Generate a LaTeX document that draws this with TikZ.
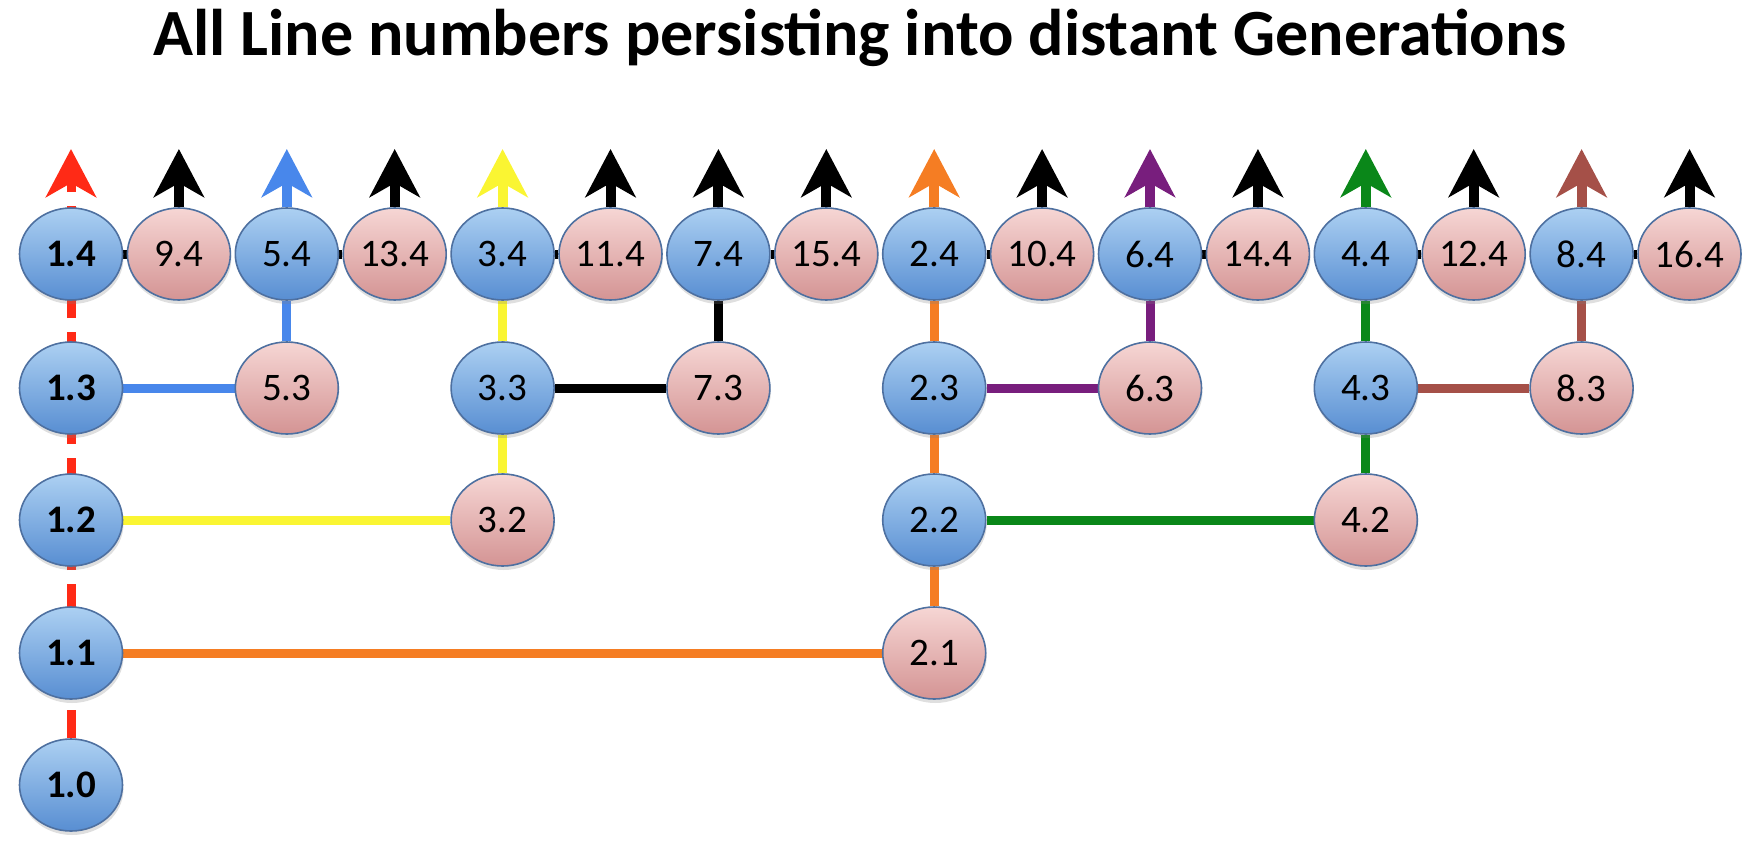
\documentclass[tikz,border=0pt]{standalone}
\usepackage{fontspec}
\setmainfont{Carlito}
\usetikzlibrary{arrows.meta,shadows,shapes.geometric,backgrounds}
\definecolor{bluetop}{RGB}{172,208,242}
\definecolor{bluebot}{RGB}{88,142,210}
\definecolor{pinktop}{RGB}{246,214,212}
\definecolor{pinkbot}{RGB}{212,148,148}
\definecolor{edgec}{RGB}{78,112,160}
\definecolor{lred}{RGB}{255,42,22}
\definecolor{lblue}{RGB}{72,135,235}
\definecolor{lyellow}{RGB}{250,245,50}
\definecolor{lorange}{RGB}{245,125,35}
\definecolor{lpurple}{RGB}{120,30,125}
\definecolor{lgreen}{RGB}{10,135,25}
\definecolor{lbrown}{RGB}{165,80,72}
\tikzset{
  gen/.style={ellipse, minimum width=103pt, minimum height=92pt, inner sep=0pt,
    draw=edgec, line width=1.6pt, font=\fontsize{39}{39}\selectfont,
    drop shadow={shadow xshift=1pt, shadow yshift=-4pt, opacity=0.25}},
  bnode/.style={gen, top color=bluetop, bottom color=bluebot},
  pnode/.style={gen, top color=pinktop, bottom color=pinkbot},
  boldtxt/.style={font=\fontsize{39}{39}\selectfont\bfseries},
  lshadow/.style={preaction={draw=black, draw opacity=0.25, transform canvas={shift={(2pt,-2pt)}}}},
  link/.style={line width=9pt, lshadow},
  arr/.style={line width=10pt, -{Stealth[length=48pt,width=50pt,inset=14pt]}},
}
\begin{document}
\begin{tikzpicture}[x=1pt,y=-1pt]
\useasboundingbox (0,0) rectangle (1760,840);
\node[anchor=base, font=\fontsize{66}{66}\selectfont\bfseries] (title) at (860,56) {All Line numbers persisting into distant Generations};
\def\ra{254}\def\rb{388}\def\rc{520}\def\rd{653}\def\re{785}
\foreach \lab/\i in {1-4/0,9-4/1,5-4/2,13-4/3,3-4/4,11-4/5,7-4/6,15-4/7,
  2-4/8,10-4/9,6-4/10,14-4/11,4-4/12,12-4/13,8-4/14,16-4/15}{
  \coordinate (t\lab) at ({71+107.9*\i},149);
}
% top row
\node[bnode,boldtxt] (n1-4) at (71,\ra) {1.4};
\node[pnode] (n9-4) at ({71+107.9*1},\ra) {9.4};
\node[bnode] (n5-4) at ({71+107.9*2},\ra) {5.4};
\node[pnode] (n13-4) at ({71+107.9*3},\ra) {13.4};
\node[bnode] (n3-4) at ({71+107.9*4},\ra) {3.4};
\node[pnode] (n11-4) at ({71+107.9*5},\ra) {11.4};
\node[bnode] (n7-4) at ({71+107.9*6},\ra) {7.4};
\node[pnode] (n15-4) at ({71+107.9*7},\ra) {15.4};
\node[bnode] (n2-4) at ({71+107.9*8},\ra) {2.4};
\node[pnode] (n10-4) at ({71+107.9*9},\ra) {10.4};
\node[bnode] (n6-4) at ({71+107.9*10},\ra) {6.4};
\node[pnode] (n14-4) at ({71+107.9*11},\ra) {14.4};
\node[bnode] (n4-4) at ({71+107.9*12},\ra) {4.4};
\node[pnode] (n12-4) at ({71+107.9*13},\ra) {12.4};
\node[bnode] (n8-4) at ({71+107.9*14},\ra) {8.4};
\node[pnode] (n16-4) at ({71+107.9*15},\ra) {16.4};
% row 2
\node[bnode,boldtxt] (n1-3) at (71,\rb) {1.3};
\node[pnode] (n5-3) at ({71+107.9*2},\rb) {5.3};
\node[bnode] (n3-3) at ({71+107.9*4},\rb) {3.3};
\node[pnode] (n7-3) at ({71+107.9*6},\rb) {7.3};
\node[bnode] (n2-3) at ({71+107.9*8},\rb) {2.3};
\node[pnode] (n6-3) at ({71+107.9*10},\rb) {6.3};
\node[bnode] (n4-3) at ({71+107.9*12},\rb) {4.3};
\node[pnode] (n8-3) at ({71+107.9*14},\rb) {8.3};
% row 3
\node[bnode,boldtxt] (n1-2) at (71,\rc) {1.2};
\node[pnode] (n3-2) at ({71+107.9*4},\rc) {3.2};
\node[bnode] (n2-2) at ({71+107.9*8},\rc) {2.2};
\node[pnode] (n4-2) at ({71+107.9*12},\rc) {4.2};
% row 4
\node[bnode,boldtxt] (n1-1) at (71,\rd) {1.1};
\node[pnode] (n2-1) at ({71+107.9*8},\rd) {2.1};
% row 5
\node[bnode,boldtxt] (n1-0) at (71,\re) {1.0};
\begin{scope}[on background layer]
  \foreach \a/\b in {1-4/9-4,5-4/13-4,3-4/11-4,7-4/15-4,2-4/10-4,6-4/14-4,4-4/12-4,8-4/16-4}
    \draw[link,black] (n\a) -- (n\b);
  \foreach \a in {9-4,13-4,11-4,15-4,10-4,14-4,12-4,16-4}
    \draw[arr,black] (n\a.north) -- (t\a);
  \draw[lred, line width=9pt, dash pattern=on 28pt off 14pt, -{Stealth[length=48pt,width=50pt,inset=14pt]}] (n1-0) -- (t1-4);
  \draw[link,lblue] (n1-3) -- (n5-3) -- (n5-4);
  \draw[arr,lblue] (n5-4.north) -- (t5-4);
  \draw[link,lyellow] (n1-2) -- (n3-2) -- (n3-3) -- (n3-4);
  \draw[arr,lyellow] (n3-4.north) -- (t3-4);
  \draw[link,black] (n3-3) -- (n7-3) -- (n7-4);
  \draw[arr,black] (n7-4.north) -- (t7-4);
  \draw[link,lorange] (n1-1) -- (n2-1) -- (n2-2) -- (n2-3) -- (n2-4);
  \draw[arr,lorange] (n2-4.north) -- (t2-4);
  \draw[link,lpurple] (n2-3) -- (n6-3) -- (n6-4);
  \draw[arr,lpurple] (n6-4.north) -- (t6-4);
  \draw[link,lgreen] (n2-2) -- (n4-2) -- (n4-3) -- (n4-4);
  \draw[arr,lgreen] (n4-4.north) -- (t4-4);
  \draw[link,lbrown] (n4-3) -- (n8-3) -- (n8-4);
  \draw[arr,lbrown] (n8-4.north) -- (t8-4);
\end{scope}
\end{tikzpicture}
\end{document}
